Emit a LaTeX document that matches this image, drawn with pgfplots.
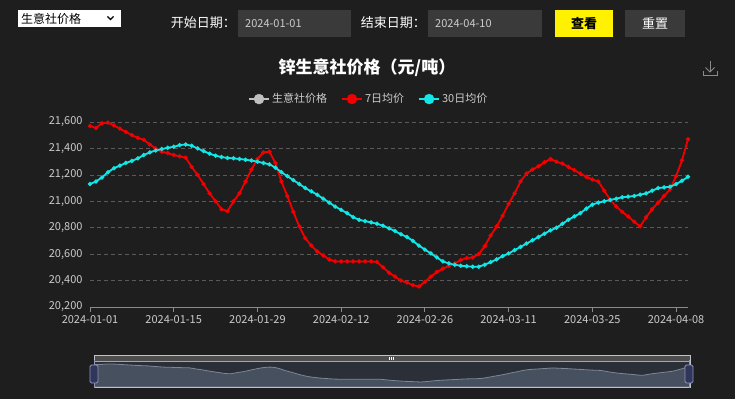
\documentclass[border=0pt]{standalone}
\usepackage{fontspec}
\setmainfont{Noto Sans CJK SC}
\usepackage{pgfplots}
\usepackage{pgfplotstable}
\pgfplotsset{compat=1.18}
\definecolor{bg}{HTML}{1E1E1E}
\definecolor{boxgray}{HTML}{3A3A3A}
\definecolor{axisgray}{HTML}{8A8A8A}
\definecolor{gridgray}{HTML}{5A5A5A}
\definecolor{labelgray}{HTML}{CCCCCC}
\definecolor{avgred}{HTML}{F00000}
\definecolor{avgcyan}{HTML}{12E6E6}
\definecolor{legendgray}{HTML}{C0C0C0}
\definecolor{sliderbar}{HTML}{4E4E4E}
\definecolor{sliderbg}{HTML}{2B3038}
\definecolor{sliderarea}{HTML}{47505E}
\definecolor{sliderline}{HTML}{7C8798}
\definecolor{handlefill}{HTML}{30355A}
\definecolor{handledraw}{HTML}{9096BC}

\pgfplotstableread{
day val
0 21570
1 21555
2 21590
3 21595
4 21575
5 21550
6 21525
7 21500
8 21480
9 21465
10 21430
11 21400
12 21375
13 21365
14 21350
15 21340
16 21330
17 21260
18 21200
19 21130
20 21060
21 21000
22 20940
23 20925
24 21000
25 21060
26 21150
27 21240
28 21320
29 21370
30 21375
31 21290
32 21150
33 21040
34 20920
35 20810
36 20720
37 20665
38 20620
39 20590
40 20560
41 20545
42 20545
43 20545
44 20545
45 20545
46 20545
47 20545
48 20540
49 20500
50 20460
51 20430
52 20400
53 20385
54 20365
55 20355
56 20390
57 20430
58 20465
59 20490
60 20510
61 20530
62 20555
63 20570
64 20575
65 20600
66 20660
67 20740
68 20810
69 20890
70 20980
71 21060
72 21150
73 21210
74 21240
75 21265
76 21295
77 21320
78 21300
79 21285
80 21260
81 21235
82 21210
83 21185
84 21165
85 21150
86 21080
87 21010
88 20960
89 20920
90 20885
91 20845
92 20810
93 20880
94 20940
95 20990
96 21040
97 21090
98 21190
99 21310
100 21470
}\redtable

\pgfplotstableread{
day val
0 21130
1 21150
2 21180
3 21220
4 21250
5 21270
6 21290
7 21305
8 21325
9 21350
10 21370
11 21385
12 21395
13 21405
14 21412
15 21425
16 21430
17 21420
18 21400
19 21380
20 21360
21 21345
22 21335
23 21328
24 21325
25 21320
26 21315
27 21308
28 21300
29 21290
30 21280
31 21255
32 21220
33 21190
34 21160
35 21130
36 21100
37 21075
38 21050
39 21020
40 20990
41 20960
42 20935
43 20910
44 20880
45 20860
46 20850
47 20840
48 20830
49 20815
50 20795
51 20775
52 20750
53 20730
54 20700
55 20665
56 20635
57 20605
58 20575
59 20545
60 20530
61 20520
62 20512
63 20508
64 20505
65 20505
66 20520
67 20540
68 20560
69 20585
70 20605
71 20630
72 20655
73 20680
74 20705
75 20730
76 20755
77 20780
78 20800
79 20830
80 20860
81 20885
82 20910
83 20945
84 20975
85 20990
86 21000
87 21010
88 21020
89 21030
90 21035
91 21040
92 21050
93 21060
94 21080
95 21100
96 21105
97 21110
98 21130
99 21155
100 21185
}\cyantable

\begin{document}
\begin{tikzpicture}
\fill[bg] (0pt,0pt) rectangle (735pt,399pt);
% --- top controls ---
\fill[white] (18pt,372pt) rectangle (121pt,389pt);
\node[anchor=west, inner sep=0pt, text=black, font=\fontsize{12}{14}\selectfont] at (21pt,380.5pt) {生意社价格};
\draw[black, line width=1.3pt] (107.5pt,382.5pt) -- (110.5pt,379.5pt) -- (113.5pt,382.5pt);
\node[anchor=east, inner sep=0pt, text=white, font=\fontsize{13}{15}\selectfont] at (236pt,376pt) {开始日期：};
\fill[boxgray] (238pt,362pt) rectangle (351pt,389pt);
\node[anchor=west, inner sep=0pt, text=labelgray, font=\fontsize{11}{13}\selectfont] at (245pt,375.5pt) {2024-01-01};
\node[anchor=east, inner sep=0pt, text=white, font=\fontsize{13}{15}\selectfont] at (426pt,376pt) {结束日期：};
\fill[boxgray] (428pt,362pt) rectangle (542pt,389pt);
\node[anchor=west, inner sep=0pt, text=labelgray, font=\fontsize{11}{13}\selectfont] at (435pt,375.5pt) {2024-04-10};
\fill[yellow] (555pt,362pt) rectangle (613pt,389pt);
\node[inner sep=0pt, text=black, font=\fontsize{13}{15}\selectfont\bfseries] at (584pt,375.5pt) {查看};
\fill[boxgray] (625pt,362pt) rectangle (685pt,389pt);
\node[inner sep=0pt, text=white, font=\fontsize{13}{15}\selectfont] at (655pt,375.5pt) {重置};
% --- title ---
\node[text=white, font=\fontsize{17}{19}\selectfont\bfseries] at (367pt,331pt) {锌生意社价格（元/吨）};
% --- download icon ---
\draw[axisgray, line width=0.9pt] (710pt,338pt) -- (710pt,327pt);
\draw[axisgray, line width=0.9pt] (705.5pt,331.5pt) -- (710pt,327pt) -- (714.5pt,331.5pt);
\draw[axisgray, line width=0.9pt] (703pt,328pt) -- (703pt,324pt) -- (717pt,324pt) -- (717pt,328pt);

% --- main chart ---
\begin{axis}[
  at={(90pt,92pt)}, anchor=south west,
  scale only axis, width=598pt, height=185pt,
  xmin=0, xmax=100, ymin=20200, ymax=21600,
  clip=false,
  axis lines*=left,
  axis line style={-},
  y axis line style={draw=none},
  x axis line style={draw=axisgray, line width=1pt},
  tick align=outside,
  major tick length=5pt,
  xtick={0,14,28,42,56,70,84,98},
  xticklabels={2024-01-01,2024-01-15,2024-01-29,2024-02-12,2024-02-26,2024-03-11,2024-03-25,2024-04-08},
  xtick style={draw=axisgray, line width=0.8pt},
  ytick={20200,20400,...,21600},
  ytick style={draw=none},
  ymajorgrids,
  grid style={gridgray, dash pattern=on 4pt off 3pt, line width=0.7pt},
  scaled y ticks=false,
  /pgf/number format/.cd, 1000 sep={,}, assume math mode=true,
  /pgfplots/.cd,
  tick label style={text=labelgray, font=\fontsize{11}{13}\selectfont},
  yticklabel style={xshift=1pt},
  legend style={draw=none, fill=none, text=labelgray, font=\fontsize{11}{13}\selectfont,
    at={(0.466,1.124)}, anchor=center, legend columns=3,
    /tikz/every even column/.append style={column sep=12pt}},
  legend cell align=left,
  legend image code/.code={\draw[#1, line width=2pt] (0pt,0pt) -- (20pt,0pt); \fill[#1] (10pt,0pt) circle (5pt);},
]
\addplot[avgred, line width=1.8pt, mark=*, mark size=1.1pt, forget plot] table[x=day,y=val] {\redtable};
\addplot[avgcyan, line width=1.8pt, mark=*, mark size=1.1pt, forget plot] table[x=day,y=val] {\cyantable};
\addlegendimage{legendgray}
\addlegendentry{生意社价格}
\addlegendimage{avgred}
\addlegendentry{7日均价}
\addlegendimage{avgcyan}
\addlegendentry{30日均价}
\end{axis}

% --- data zoom slider ---
\fill[sliderbg] (94pt,12pt) rectangle (690pt,38pt);
\fill[sliderbar] (94pt,38pt) rectangle (690pt,44pt);
\draw[gray!70, line width=0.6pt] (94pt,38pt) -- (690pt,38pt);
\begin{axis}[
  at={(94pt,12pt)}, anchor=south west,
  scale only axis, width=596pt, height=26pt,
  xmin=0, xmax=100, ymin=20004, ymax=21803,
  hide axis,
]
\addplot[sliderline, line width=0.8pt, fill=sliderarea, smooth] table[x=day,y=val] {\redtable} \closedcycle;
\end{axis}
\draw[sliderline!50, line width=0.5pt] (94pt,12pt) rectangle (690pt,44pt);
\foreach \xx in {389pt,391pt,393pt} \draw[white, line width=0.8pt] (\xx,39.5pt) -- (\xx,42.5pt);
\foreach \xx in {94pt,689pt} {
  \draw[handledraw, line width=0.6pt] (\xx,11pt) -- (\xx,39pt);
  \filldraw[fill=handlefill, draw=handledraw, line width=0.8pt, rounded corners=1.5pt] ([xshift=-4pt]\xx,16pt) rectangle ([xshift=4pt]\xx,34pt);
}
\end{tikzpicture}
\end{document}
